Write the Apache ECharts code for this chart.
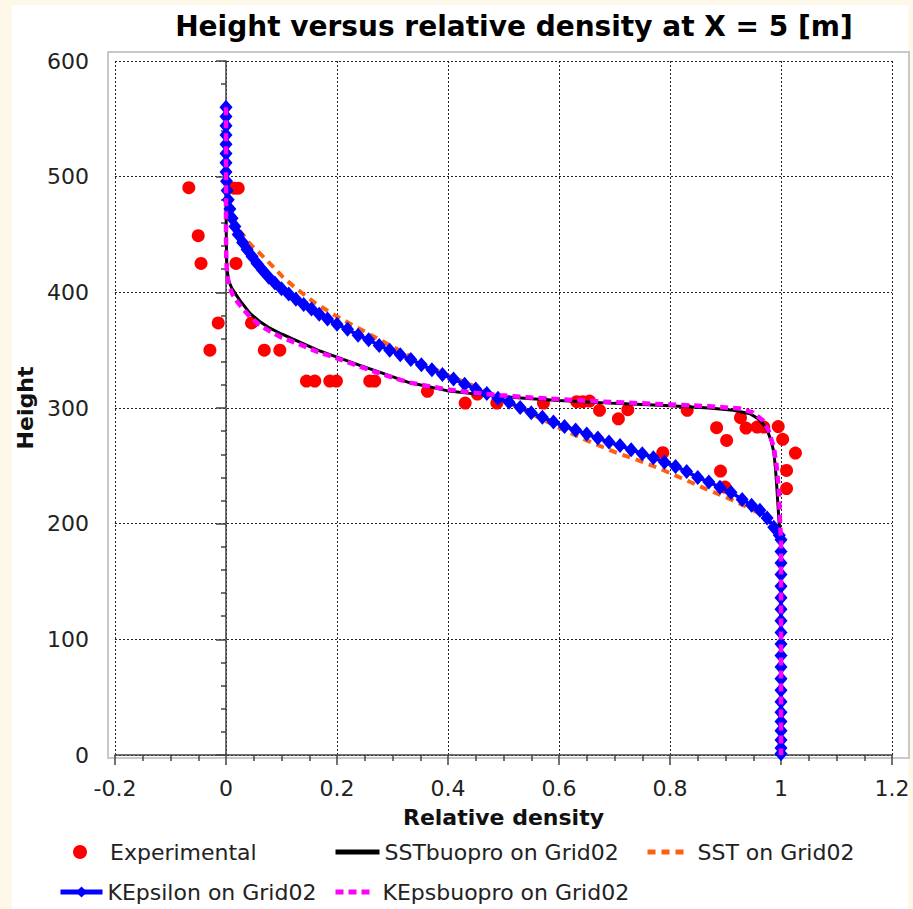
<!DOCTYPE html>
<html>
<head>
<meta charset="utf-8">
<script src="https://cdn.jsdelivr.net/npm/echarts@6/dist/echarts.min.js"></script>
<style>html,body{margin:0;padding:0;background:#fef8e8;}#c{width:913px;height:909px;}</style>
</head>
<body>
<div id="c"></div>
<script>
// ---- data (relative density, height) ----
const experimental = [
  [-0.067,490.5],[0.015,490],[0.022,490],[-0.05,449],[-0.045,425],[0.018,425],
  [-0.014,373.5],[0.046,373.5],[-0.029,350],[0.069,350],[0.097,350],
  [0.145,323.3],[0.16,323.3],[0.187,323.3],[0.199,323.3],[0.259,323.3],[0.268,323.3],
  [0.363,314.4],[0.431,304.3],[0.453,312],[0.488,304.3],[0.572,304.3],
  [0.632,305.5],[0.643,305.5],[0.655,306],[0.673,298],[0.707,290.7],[0.724,298.5],
  [0.787,261.4],[0.831,298],[0.884,283],[0.902,272],[0.891,245.5],[0.899,231.6],
  [0.927,291.6],[0.937,282.7],[0.957,283.5],[0.969,283.5],[0.995,284],[1.003,272.9],
  [1.026,261],[1.010,246],[1.010,230.3]
];
const sstBuopro = [
  [0,560],[0,520],[0,480],[0.0005,450],[0.001,430],[0.002,419],[0.005,410],[0.010,404],
  [0.018,398],[0.025,393],[0.043,382],[0.06,375],[0.079,369],[0.1,364],[0.133,357],
  [0.165,350],[0.2,344],[0.24,337],[0.283,330],[0.33,322],[0.398,315],[0.45,312],
  [0.494,310],[0.55,308],[0.6,306.5],[0.7,304],[0.8,302],[0.87,300],[0.914,298],
  [0.944,295],[0.958,291],[0.968,286],[0.976,280],[0.982,272],[0.987,262],[0.99,248],
  [0.992,235],[0.994,220],[0.996,205],[0.998,193],[1,180],[1,0]
];
const sst = [
  [0,560],[0,500],[0.003,480],[0.008,470],[0.015,462],[0.025,453],[0.043,442],[0.073,428],
  [0.103,413],[0.127,403],[0.16,391],[0.2,379],[0.25,366],[0.3,353],[0.35,340],[0.4,328],
  [0.45,318.5],[0.49,309.5],[0.52,302],[0.55,295],[0.6,283],[0.65,272],[0.7,262],
  [0.75,253.5],[0.782,247.5],[0.82,239.5],[0.86,231],[0.9,223],[0.932,216],[0.968,207],
  [0.986,201],[0.997,194],[1,188],[1,0]
];
const kEpsilon = [
  [0,560],[0,552],[0,544],[0,536],[0,528],[0,520],[0,512],[0,504],[0.001,496],[0.002,488],
  [0.004,480],[0.007,472],[0.011,464],[0.016,457],[0.022,450],[0.03,443],[0.038,437],
  [0.047,431],[0.056,425],[0.066,419],[0.077,413],[0.088,408],[0.1,403],[0.113,398.5],
  [0.126,394],[0.14,389.5],[0.154,385.5],[0.168,381],[0.183,377],[0.2,372.5],
  [0.219,368],[0.238,363],[0.257,359],[0.276,354],[0.295,350],[0.314,346],[0.333,342],
  [0.352,337.5],[0.371,333],[0.39,329],[0.41,325],[0.43,320.5],[0.45,316.5],[0.47,312.5],
  [0.49,308.5],[0.51,305],[0.53,300.5],[0.55,296],[0.57,292],[0.59,288],[0.61,284],
  [0.63,281],[0.65,277.5],[0.67,274],[0.69,270.5],[0.71,267.5],[0.73,264],[0.75,260.5],
  [0.77,257],[0.79,253],[0.81,249.5],[0.83,245],[0.85,240],[0.87,236],[0.89,231.5],
  [0.91,227],[0.93,221],[0.947,216],[0.962,211.5],[0.975,205],[0.987,197],[0.997,190],
  [1,186],[1,176],[1,166],[1,156],[1,146],[1,136],[1,126],[1,116],[1,106],[1,96],[1,86],
  [1,76],[1,66],[1,56],[1,46],[1,37],[1,29],[1,21],[1,13],[1,6],[1,1]
];
const kEpsBuopro = [
  [0,560],[0,520],[0,480],[0,450],[0.0005,430],[0.002,415],[0.006,405],[0.012,398],
  [0.02,392],[0.03,386],[0.043,379],[0.06,372],[0.08,366],[0.1,361],[0.133,355],
  [0.165,348.5],[0.2,343],[0.24,336],[0.283,329],[0.33,322],[0.398,316],[0.45,313],
  [0.494,311],[0.55,309],[0.6,307.5],[0.7,305],[0.8,303],[0.87,301.5],[0.926,299.5],
  [0.95,296],[0.968,289],[0.978,280],[0.987,266],[0.992,250],[0.996,229],[0.998,205],
  [1,185],[1,0]
];
const names = ['Experimental','SSTbuopro on Grid02','SST on Grid02','KEpsilon on Grid02','KEpsbuopro on Grid02'];
const titleText = 'Height versus relative density at X = 5 [m]';
const xName = 'Relative density';
const yName = 'Height';

const FONT = 'DejaVu Sans';
const chart = echarts.init(document.getElementById('c'), null, {renderer:'svg'});
const legTxt = {fontSize:22, color:'#222', fontFamily:FONT};
function leg(name, left, top, w, pad, hideSym, lw){
  const o = {data:[name], left:left, top:top, itemWidth:w, itemHeight:14, padding:0,
    textStyle:Object.assign({padding:[0,0,0,pad]}, legTxt), selectedMode:false};
  if (hideSym) o.itemStyle = {opacity:0};
  if (lw) o.lineStyle = {width:lw};
  return o;
}
chart.setOption({
  animation:false,
  backgroundColor:'#fef8e8',
  graphic:[
    {type:'rect', z:-10, shape:{x:12,y:5,width:896,height:904}, style:{fill:'#ffffff'}},
    {type:'rect', z:-9, shape:{x:108,y:52,width:801,height:706}, style:{fill:'none', stroke:'#c8c8c8', lineWidth:2}}
  ],
  title:{text:titleText, left:509, top:7, textAlign:'center',
    textStyle:{fontFamily:FONT, fontWeight:'bold', fontSize:28, color:'#000'}},
  grid:{left:115, right:21, top:61, bottom:154},
  xAxis:{type:'value', min:-0.2, max:1.2, interval:0.2, offset:9,
    name:xName, nameLocation:'middle', nameGap:42,
    nameTextStyle:{fontFamily:FONT, fontWeight:'bold', fontSize:22, color:'#111'},
    axisLine:{show:true, lineStyle:{color:'#444', width:1.5}},
    axisTick:{show:true, length:10, lineStyle:{color:'#444', width:1.5}},
    minorTick:{show:true, splitNumber:4, length:6, lineStyle:{color:'#444', width:1.5}},
    axisLabel:{fontFamily:FONT, fontSize:22, color:'#222', margin:13},
    splitLine:{show:true, lineStyle:{color:'#222', width:1, type:[2,2]}}
  },
  yAxis:{type:'value', min:0, max:600, interval:100, offset:10,
    name:yName, nameLocation:'middle', nameGap:66, nameRotate:90,
    nameTextStyle:{fontFamily:FONT, fontWeight:'bold', fontSize:22, color:'#111'},
    axisLine:{show:true, lineStyle:{color:'#444', width:1.5}},
    axisTick:{show:true, length:10, lineStyle:{color:'#444', width:1.5}},
    minorTick:{show:true, splitNumber:5, length:5, lineStyle:{color:'#444', width:1.5}},
    axisLabel:{fontFamily:FONT, fontSize:22, color:'#222', margin:16},
    splitLine:{show:true, lineStyle:{color:'#222', width:1, type:[2,2]}}
  },
  legend:[
    leg(names[0], 73, 841, 50, 0, false, 0),
    leg(names[1], 333, 841, 44, 0, true, 5),
    leg(names[2], 645, 841, 37, 8, true, 5),
    leg(names[3], 58, 881, 42, 0, false, 5),
    leg(names[4], 333, 881, 36, 6, true, 5)
  ],
  series:[
    {name:names[0], type:'scatter', data:experimental, symbol:'circle', symbolSize:13,
      itemStyle:{color:'#ff0000', opacity:1}, z:2},
    {name:names[1], type:'line', data:sstBuopro, symbol:'none',
      lineStyle:{color:'#000000', width:3}, itemStyle:{color:'#000000'}, z:3},
    {name:names[2], type:'line', data:sst, symbol:'none',
      lineStyle:{color:'#ff6010', width:4, type:[8,6]}, itemStyle:{color:'#ff6010'}, z:4},
    {name:names[3], type:'line', data:kEpsilon, symbol:'diamond', symbolSize:[13,15], showSymbol:true,
      lineStyle:{color:'#0000ff', width:3.5}, itemStyle:{color:'#0000ff'}, z:5},
    {name:names[4], type:'line', data:kEpsBuopro, symbol:'none',
      lineStyle:{color:'#ff00ff', width:4.5, type:[8,5]}, itemStyle:{color:'#ff00ff'}, z:6}
  ]
});
</script>
</body>
</html>
